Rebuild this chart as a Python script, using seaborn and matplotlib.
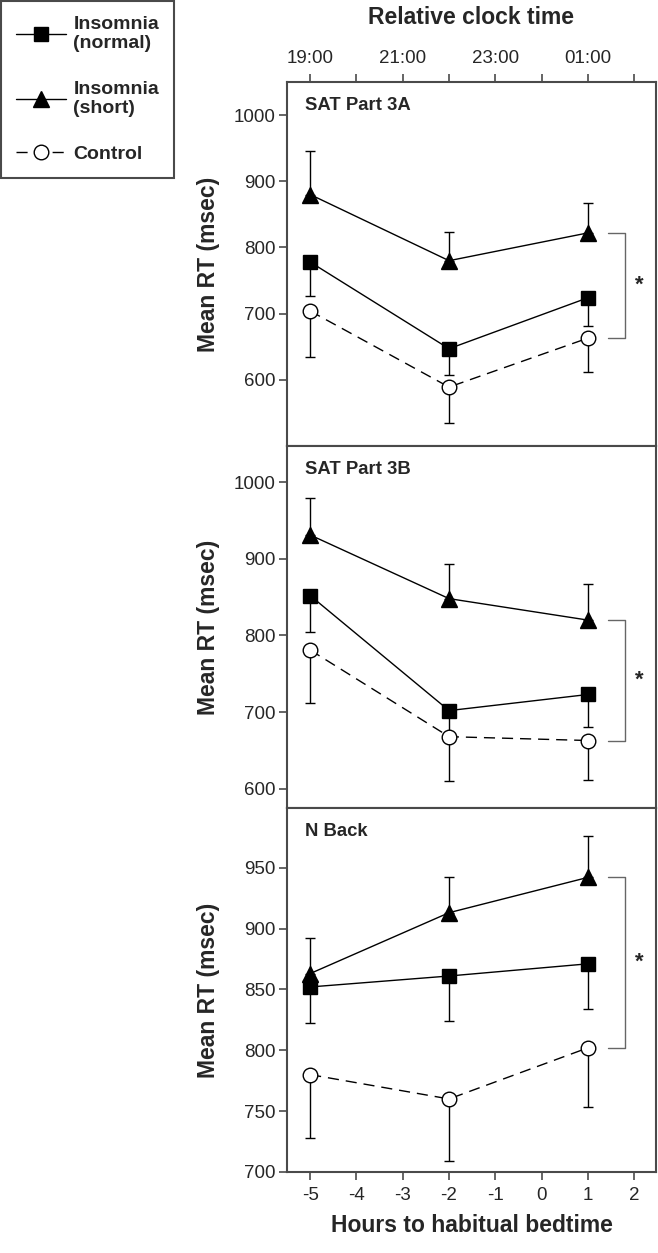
import numpy as np
import pandas as pd
import matplotlib
matplotlib.use("Agg")
import matplotlib.pyplot as plt
from matplotlib.lines import Line2D
from matplotlib import font_manager
import seaborn as sns

# ---------------- data ----------------
hours = [-5, -2, 1]
clock_ticks = [-5, -4, -3, -2, -1, 0, 1, 2]
clock_labels = ["19:00", "", "21:00", "", "23:00", "", "01:00", ""]
panel_names = ["SAT Part 3A", "SAT Part 3B", "N Back"]

# SAT Part 3A
a_normal = [778, 647, 724]
a_normal_err = [52, 40, 43]
a_short = [880, 780, 822]
a_short_err = [65, 43, 45]
a_control = [704, 589, 663]
a_control_err = [70, 55, 51]

# SAT Part 3B
b_normal = [852, 702, 723]
b_normal_err = [47, 35, 42]
b_short = [931, 848, 820]
b_short_err = [48, 45, 47]
b_control = [781, 668, 663]
b_control_err = [69, 58, 51]

# N Back
n_normal = [852, 861, 871]
n_normal_err = [30, 37, 37]
n_short = [863, 913, 942]
n_short_err = [29, 29, 34]
n_control = [780, 760, 802]
n_control_err = [52, 51, 49]

y_limits = [(500, 1050), (575, 1047), (700, 999)]
y_ticks = [[600, 700, 800, 900, 1000], [600, 700, 800, 900, 1000],
           [700, 750, 800, 850, 900, 950]]

groups = ["Insomnia\n(normal)", "Insomnia\n(short)", "Control"]

# ---------------- style ----------------
sns.set_style("ticks")
names = {f.name for f in font_manager.fontManager.ttflist}
narrow = "Liberation Sans Narrow" if "Liberation Sans Narrow" in names else "Liberation Sans"
plt.rcParams["font.family"] = [narrow, "DejaVu Sans"]
plt.rcParams["axes.unicode_minus"] = False

SPINE = "#4a4a4a"
TICK_FS = 13.5
TITLE_FS = 16.5
PANEL_FS = 13.3

fig = plt.figure(figsize=(6.58, 12.53), dpi=100)
W, H = 658, 1253
left_px, right_px = 287, 656
panel_px = [(82, 446), (446, 808), (808, 1172)]

series_style = {
    "normal": dict(marker="s", ms=10, mfc="black", ls="-"),
    "short": dict(marker="^", ms=12, mfc="black", ls="-"),
    "control": dict(marker="o", ms=10.5, mfc="white", ls=(0, (8, 5))),
}

panels = [
    [("normal", a_normal, a_normal_err, -1), ("short", a_short, a_short_err, 1),
     ("control", a_control, a_control_err, -1)],
    [("normal", b_normal, b_normal_err, -1), ("short", b_short, b_short_err, 1),
     ("control", b_control, b_control_err, -1)],
    [("normal", n_normal, n_normal_err, -1), ("short", n_short, n_short_err, 1),
     ("control", n_control, n_control_err, -1)],
]

axes = []
for i, (top, bot) in enumerate(panel_px):
    ax = fig.add_axes([left_px / W, 1 - bot / H, (right_px - left_px) / W, (bot - top) / H])
    axes.append(ax)
    for z, (key, vals, errs, direction) in enumerate(panels[i]):
        st = series_style[key]
        df = pd.DataFrame({"h": hours, "rt": vals})
        lower = [e if direction < 0 else 0 for e in errs]
        upper = [e if direction > 0 else 0 for e in errs]
        ax.errorbar(df["h"], df["rt"], yerr=[lower, upper], fmt="none",
                    ecolor="black", elinewidth=1.0, capsize=3.5, capthick=1.0, zorder=1)
        sns.lineplot(data=df, x="h", y="rt", ax=ax, color="black", linewidth=1.0,
                     marker=st["marker"], markersize=st["ms"],
                     markerfacecolor=st["mfc"], markeredgecolor="black",
                     markeredgewidth=1.0, zorder=3 + z)
        ax.lines[-1].set_linestyle(st["ls"])
    # significance bracket between short and control at last time point
    short_last = panels[i][1][1][-1]
    ctrl_last = panels[i][2][1][-1]
    bx0, bx1 = hours[-1] + 0.44, hours[-1] + 0.8
    ax.plot([bx0, bx1, bx1, bx0], [short_last, short_last, ctrl_last, ctrl_last],
            color="#666666", linewidth=1.0, zorder=2)
    ax.text(hours[-1] + 1.12, (short_last + ctrl_last) / 2, "*", ha="center", va="center",
            fontsize=16, fontweight="bold")

    ax.set_xlim(-5.5, 2.47)
    ax.set_ylim(*y_limits[i])
    ax.set_yticks(y_ticks[i])
    ax.set_xticks(clock_ticks)
    for s in ax.spines.values():
        s.set_color(SPINE)
        s.set_linewidth(1.5)
    ax.tick_params(axis="y", direction="out", length=6, width=1.2, color=SPINE,
                   labelsize=TICK_FS, pad=2)
    ax.tick_params(axis="x", direction="out", length=6, width=1.2, color=SPINE,
                   labelsize=TICK_FS, pad=5)
    if i < 2:
        ax.tick_params(axis="x", bottom=False, labelbottom=False)
    ax.set_ylabel("Mean RT (msec)", fontsize=TITLE_FS, fontweight="bold")
    ax.yaxis.set_label_coords((208 - left_px) / (right_px - left_px), 0.5)
    ax.yaxis.label.set_va("center")
    ax.set_xlabel("")
    ax.text(0.048, 1 - 24 / (bot - top), panel_names[i], transform=ax.transAxes,
            ha="left", va="center", fontsize=PANEL_FS, fontweight="bold")

# top clock-time axis
axt = axes[0].twiny()
axt.set_xlim(axes[0].get_xlim())
axt.set_xticks(clock_ticks)
axt.set_xticklabels(clock_labels)
axt.tick_params(axis="x", direction="out", length=6, width=1.2, color=SPINE,
                labelsize=TICK_FS, pad=5)
for s in axt.spines.values():
    s.set_visible(False)
axt.set_xlabel("Relative clock time", fontsize=TITLE_FS, fontweight="bold")
axt.xaxis.set_label_coords(0.5, 1 + (82 - 17) / (446 - 82))
axt.xaxis.label.set_va("center")

axes[2].set_xlabel("Hours to habitual bedtime", fontsize=TITLE_FS, fontweight="bold")
axes[2].xaxis.set_label_coords(0.5, -(1225 - 1172) / (1172 - 808))
axes[2].xaxis.label.set_va("center")

# legend
handles = []
for key in ["normal", "short", "control"]:
    st = series_style[key]
    handles.append(Line2D([0], [0], color="black", linewidth=1.0, linestyle=st["ls"],
                          marker=st["marker"], markersize=st["ms"],
                          markerfacecolor=st["mfc"], markeredgecolor="black"))
leg = fig.legend(handles, groups, loc="upper left", bbox_to_anchor=(0.002, 0.999),
                 borderaxespad=0, frameon=True, fancybox=False, handlelength=2.6,
                 handletextpad=0.35, borderpad=0.75, labelspacing=1.45,
                 prop={"family": [narrow, "DejaVu Sans"], "weight": "bold", "size": 14})
leg.get_frame().set_edgecolor(SPINE)
leg.get_frame().set_linewidth(1.5)
leg.get_frame().set_alpha(1)

fig.savefig("out.png", dpi=100)
